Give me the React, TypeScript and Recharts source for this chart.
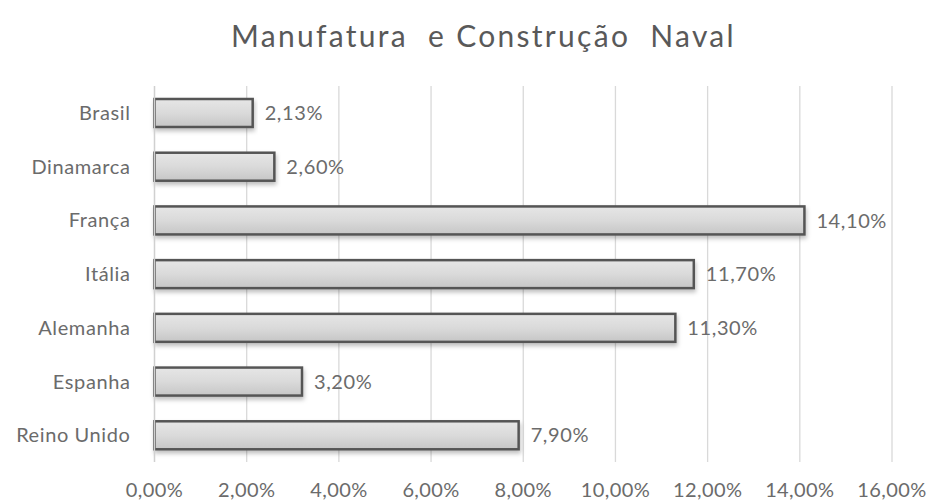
import React from 'react';
import { BarChart, Bar, XAxis, YAxis, CartesianGrid, LabelList } from 'recharts';

const categories = ['Brasil', 'Dinamarca', 'França', 'Itália', 'Alemanha', 'Espanha', 'Reino Unido'];
const values = [0.0213, 0.026, 0.141, 0.117, 0.113, 0.032, 0.079];
const xTicks = [0, 0.02, 0.04, 0.06, 0.08, 0.1, 0.12, 0.14, 0.16];
const title = 'Manufatura  e Construção  Naval';

const data = categories.map((c, i) => ({ name: c, value: values[i] }));

const fmt = (v: number) => (v * 100).toFixed(2).replace('.', ',') + '%';

const FONT = 'Lato, "Open Sans", sans-serif';
const TEXT = '#6b6b6b';

const BarShape = (props: any) => {
  const { x, y, width, height } = props;
  return (
    <g>
      <rect x={x} y={y} width={width} height={height} fill="url(#barGrad)" stroke="#555555" strokeWidth={2.5} filter="url(#shadow)" />
    </g>
  );
};

export default function App() {
  return (
    <div style={{ position: 'absolute', left: 0, top: 0, width: 933, height: 502, background: '#fff', fontFamily: FONT }}>
      <div
        style={{
          position: 'absolute',
          left: 0,
          top: 17,
          width: 967,
          textAlign: 'center',
          fontSize: 30,
          letterSpacing: 2.3,
          lineHeight: '36px',
          color: '#595959',
          whiteSpace: 'pre',
          fontFamily: FONT,
        }}
      >
        {title}
      </div>
      <BarChart
        width={933}
        height={502}
        data={data}
        layout="vertical"
        margin={{ top: 86, right: 41, bottom: 0, left: 0 }}
        barSize={28}
      >
        <defs>
          <linearGradient id="barGrad" x1="0" y1="0" x2="0" y2="1">
            <stop offset="0%" stopColor="#e6e6e6" />
            <stop offset="50%" stopColor="#dadada" />
            <stop offset="100%" stopColor="#c6c6c6" />
          </linearGradient>
          <filter id="shadow" x="-5%" y="-20%" width="110%" height="160%">
            <feDropShadow dx="1" dy="3" stdDeviation="2" floodColor="#000" floodOpacity="0.25" />
          </filter>
        </defs>
        <CartesianGrid horizontal={false} vertical stroke="#d9d9d9" strokeWidth={1.3} />
        <XAxis
          type="number"
          domain={[0, 0.16]}
          ticks={xTicks}
          tickFormatter={fmt}
          axisLine={false}
          tickLine={false}
          tickSize={0}
          tickMargin={21}
          height={40}
          interval={0}
          tick={{ fill: TEXT, fontSize: 20, fontFamily: FONT, letterSpacing: 0.4 }}
        />
        <YAxis
          type="category"
          dataKey="name"
          width={154.5}
          axisLine={{ stroke: '#d0d0d0', strokeWidth: 1.3 }}
          tickLine={false}
          tickSize={0}
          tickMargin={24}
          interval={0}
          tick={{ fill: TEXT, fontSize: 20, fontFamily: FONT, letterSpacing: 0.6 }}
        />
        <Bar dataKey="value" shape={BarShape} isAnimationActive={false}>
          <LabelList
            dataKey="value"
            position="right"
            offset={12}
            formatter={(v: any) => fmt(Number(v))}
            style={{ fill: TEXT, fontSize: 20, fontFamily: FONT, letterSpacing: 0.6 }}
          />
        </Bar>
      </BarChart>
    </div>
  );
}
